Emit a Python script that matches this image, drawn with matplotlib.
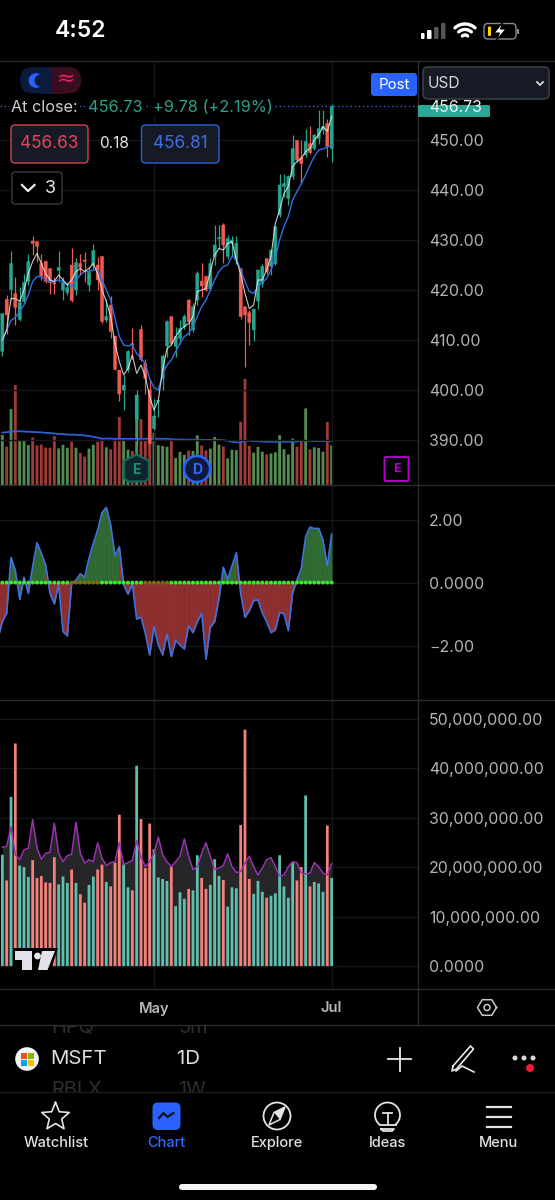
import numpy as np
import matplotlib
matplotlib.use("Agg")
import matplotlib.pyplot as plt
from matplotlib.patches import Circle, FancyBboxPatch, Polygon, Rectangle

plt.rcParams['font.family'] = ['Inter', 'DejaVu Sans']

# daily candles, oldest first
open_p = [407.7,418.1,420.1,419.3,414.1,417.7,421.7,429.8,429.7,425.3,425.7,424.3,421.5,423.9,420.0,419.5,425.0,420.0,425.3,426.0,
          421.0,425.0,425.0,426.7,414.0,417.0,410.8,404.0,400.0,404.1,409.3,394.0,412.1,405.3,400.0,392.3,397.7,402.3,408.8,414.7,
          408.7,410.3,412.7,418.0,412.0,418.0,421.8,422.7,420.2,426.7,430.2,433.0,426.7,429.3,426.0,424.3,416.7,415.5,412.0,417.8,
          421.3,426.3,424.7,425.3,435.0,440.7,438.3,442.7,449.9,446.5,447.0,449.3,448.3,450.3,452.0,453.3,448.3]
close_p = [415.3,415.0,425.3,416.5,417.5,421.5,425.7,429.3,428.7,422.8,421.7,421.5,421.2,424.5,421.5,420.5,417.9,425.5,424.5,425.7,
           423.5,427.9,422.0,413.7,414.7,411.7,404.1,399.2,401.0,407.7,409.0,399.0,406.1,402.3,389.3,394.8,397.9,406.8,413.7,409.3,
           410.7,412.3,414.7,413.7,416.7,423.3,420.8,420.0,425.3,429.0,430.5,429.0,430.3,430.0,429.3,414.7,415.0,413.5,416.2,424.0,
           424.7,423.7,428.0,432.7,441.0,441.3,442.7,448.3,446.0,445.3,449.7,447.5,451.0,452.3,452.7,448.7,456.73]
high_p = [415.5,419.0,427.9,422.7,420.7,423.3,427.3,430.8,429.7,427.3,426.0,424.3,422.7,427.8,422.7,421.7,428.5,426.5,427.2,427.7,
          424.7,429.3,426.7,426.8,418.3,418.8,410.8,404.0,403.0,408.0,412.5,400.0,413.0,406.3,402.0,398.3,398.0,407.3,414.1,414.7,
          412.7,414.0,415.3,418.3,417.5,423.8,425.5,423.0,426.5,433.0,433.0,433.5,431.0,430.9,430.9,424.3,416.7,416.0,416.3,424.0,
          425.3,426.3,428.0,432.7,443.3,443.3,443.0,451.0,450.1,450.0,452.3,452.8,451.3,456.0,456.1,454.3,457.3]
low_p = [406.8,411.3,418.0,413.0,413.9,417.3,421.0,427.0,425.7,422.0,421.5,419.2,419.3,421.7,418.0,419.0,417.7,419.0,423.0,421.7,
         419.9,424.3,420.0,413.5,413.7,410.5,404.0,397.9,396.0,403.7,406.3,389.3,405.9,399.3,389.3,392.0,394.7,400.1,406.7,409.0,
         406.7,409.3,412.3,411.0,411.7,417.1,418.7,419.8,420.0,425.0,428.3,425.5,426.3,426.9,425.3,414.3,404.7,409.0,409.8,416.3,
         420.7,423.3,423.0,425.0,434.7,438.7,437.0,442.3,445.7,441.3,446.7,447.3,448.0,449.3,451.3,446.7,445.7]
fast_ma = [410.0,412.0,418.3,418.3,417.7,420.0,423.3,425.7,427.3,425.3,423.3,422.0,421.7,423.0,422.0,421.0,422.0,423.7,424.3,423.7,
           424.3,425.3,423.3,420.0,417.7,414.7,409.3,405.7,403.0,404.3,407.0,403.3,405.0,402.7,398.7,396.0,398.0,404.0,408.3,409.0,
           410.7,412.0,412.7,413.3,414.7,419.7,420.0,420.3,423.7,427.0,428.3,428.0,429.3,429.7,426.0,423.3,419.3,416.3,417.0,422.0,
           422.0,424.0,426.7,433.3,436.0,439.3,440.7,444.7,445.7,446.3,447.7,448.3,450.0,451.0,452.7,451.7,454.7]
slow_ma = [410.0,412.0,413.9,414.5,415.7,417.0,419.0,421.7,422.7,422.7,422.0,421.7,421.7,422.0,421.7,421.0,420.7,422.0,423.0,423.7,
           423.7,424.0,424.0,422.0,420.0,418.0,414.3,410.7,409.0,408.8,409.0,407.3,406.3,405.3,402.3,400.5,400.0,403.3,405.0,406.0,
           407.7,409.3,410.7,411.3,412.7,414.7,416.7,418.0,420.0,422.0,423.7,424.7,425.0,426.7,426.3,424.0,421.7,419.7,419.3,420.7,
           421.5,422.3,424.0,426.3,430.0,432.7,434.7,438.0,439.7,441.3,443.0,445.0,446.7,448.0,448.2,448.6,449.0]

# volume in millions, its average in the price pane, and the purple average in the lower pane
volume_m = [22.5,17.3,34.2,45.0,20.3,20.0,18.0,21.4,17.8,18.2,16.9,16.8,22.0,16.5,18.1,16.8,19.5,16.8,14.5,12.8,
            16.4,18.1,19.5,20.5,17.0,16.1,20.9,30.6,20.5,15.9,15.3,40.5,29.7,19.8,28.8,23.6,17.9,17.6,17.2,20.1,
            12.1,14.9,13.6,15.6,15.3,22.4,17.8,15.6,16.4,21.6,18.2,17.4,12.0,15.9,15.7,28.5,47.8,17.6,14.6,17.2,
            15.0,13.8,14.2,14.7,22.4,16.1,13.8,20.9,17.3,20.0,34.5,16.1,17.0,16.7,15.0,28.4,17.8]
volume_avg = [23.6,23.8,24.0,24.2,24.2,24.1,24.0,23.9,23.8,23.7,23.5,23.4,23.2,23.0,22.9,22.7,22.7,22.6,22.5,22.3,
              22.1,21.7,21.3,20.9,20.9,20.9,20.8,20.8,20.8,20.8,20.8,20.8,20.8,20.8,20.8,20.8,20.8,20.8,20.8,20.6,
              20.5,20.5,20.4,20.4,20.4,20.3,20.3,20.3,20.3,20.3,20.3,20.2,19.9,19.5,19.2,19.2,20.0,19.9,19.8,19.7,
              19.6,19.5,19.5,19.5,19.5,19.5,19.5,19.5,19.6,19.9,20.0,19.9,19.8,19.8,19.8,19.8,19.8]
volume_purple = [24.0,24.2,28.1,22.5,21.5,23.5,23.8,29.6,23.9,21.6,22.8,23.0,28.9,22.8,21.1,22.3,22.6,29.1,22.8,20.8,
                 21.5,21.1,24.9,21.8,20.3,20.9,21.1,25.0,20.5,20.9,21.3,25.4,22.0,20.1,21.1,22.8,26.1,22.5,21.1,20.1,
                 21.1,22.2,25.7,22.2,19.5,20.1,22.8,24.9,22.2,19.5,19.8,20.3,22.7,20.1,18.9,19.1,20.8,22.2,20.1,18.4,
                 19.8,21.5,21.9,20.1,18.2,18.4,20.1,21.1,20.9,18.8,18.6,18.8,20.9,20.1,18.8,18.4,20.7]

# oscillator starts one bar earlier, the first point sits off the left edge
osc_vals = [-1.77,-1.24,-0.97,0.80,0.38,-0.53,0.17,-0.34,0.51,1.27,0.93,0.56,-0.34,-0.68,-0.04,-1.56,-1.69,-0.02,0.08,0.28,
            0.17,0.77,1.25,1.67,2.22,2.39,1.83,0.85,1.14,-0.07,-0.37,-0.04,-1.16,-1.10,-1.61,-2.30,-1.40,-1.98,-2.30,-1.63,
            -2.35,-1.84,-1.98,-2.11,-1.38,-1.59,-1.24,-0.97,-2.43,-1.42,-1.24,-0.50,0.49,0.11,0.53,0.95,-0.34,-1.10,-0.89,-0.57,
            -0.55,-0.97,-1.24,-1.59,-1.50,-0.95,-0.99,-1.52,-0.32,0.08,0.46,1.46,1.76,1.72,1.72,1.35,0.53,1.54]
squeeze_dim = [16,17,18,19,20,21,22,33,34,35,36,37,38]

price_ticks = [390,400,410,420,430,440,450]
osc_ticks = [-2,0,2]
osc_labels = ['\u22122.00','0.0000','2.00']
vol_ticks = [0,10,20,30,40,50]
vol_labels = ['0.0000','10,000,000.00','20,000,000.00','30,000,000.00','40,000,000.00','50,000,000.00']
month_pos = [35,76]
month_labels = ['May','Jul']
last_close = 456.73

W, H = 555, 1200
BG = '#000000'
UP, DOWN = '#27a58f', '#ef5b52'
GRID = '#14161a'
TICK = '#b4b4b8'
LINE = '#2a2c33'

fig = plt.figure(figsize=(W/100, H/100), dpi=100, facecolor=BG)

def pane(top, bottom):
    ax = fig.add_axes([0, 1-bottom/H, 417.5/W, (bottom-top)/H], facecolor=BG)
    for s in ax.spines.values():
        s.set_visible(False)
    ax.set_xlim((0-2.33)/4.333, (417.5-2.33)/4.333)
    ax.yaxis.tick_right()
    ax.tick_params(axis='y', length=0, pad=8.4, labelsize=11.4, labelcolor=TICK)
    ax.tick_params(axis='x', length=0, labelbottom=False)
    ax.set_xticks(month_pos)
    ax.grid(color=GRID, lw=1)
    ax.set_axisbelow(True)
    return ax

def unsnap(bars):
    # even bar widths instead of rounding to whole pixels
    for b in bars:
        b.set_snap(False)

x = np.arange(len(close_p))
is_up = np.array(close_p) >= np.array(open_p)

# volume sits under the candles in the price pane
ax_v = fig.add_axes([0, 1-485/H, 417.5/W, 424/H], facecolor=BG)
ax_v.axis('off')
ax_v.set_xlim((0-2.33)/4.333, (417.5-2.33)/4.333)
ax_v.set_ylim(0, 191)
unsnap(ax_v.bar(x, volume_m, width=0.66, color=['#548c50' if u else '#9e3a37' for u in is_up]))
ax_v.plot(x, volume_avg, color='#2f5fd8', lw=1.3)

ax1 = pane(61, 485)
ax1.patch.set_alpha(0)
ax1.set_zorder(ax_v.get_zorder()+1)
ax1.set_ylim(381, 465.8)
ax1.set_yticks(price_ticks)
ax1.set_yticklabels([f'{p:.2f}' for p in price_ticks])
colors = [UP if u else DOWN for u in is_up]
ax1.axhline(last_close, color='#3f62c8', lw=1, ls=(0, (1, 2)))
ax1.vlines(x, low_p, high_p, color=colors, lw=0.9)
bottoms = np.minimum(open_p, close_p)
heights = np.abs(np.array(close_p)-np.array(open_p))
unsnap(ax1.bar(x, heights, bottom=bottoms, width=0.72, color=colors, edgecolor=colors, lw=0.3))
ax1.plot(x, slow_ma, color='#2f6fe0', lw=1.0)
ax1.plot(x, fast_ma, color='#e8e8e0', lw=0.8, alpha=0.85)

# oscillator, each segment takes the colour of its end point
ax2 = pane(485, 700)
ax2.set_ylim(-3.73, 3.10)
ax2.set_yticks(osc_ticks)
ax2.set_yticklabels(osc_labels)
ox = np.arange(-1, len(close_p))
for j in range(1, len(osc_vals)):
    seg = '#2f6b32' if osc_vals[j] >= 0 else '#8f3030'
    ax2.fill_between(ox[j-1:j+1], osc_vals[j-1:j+1], 0, facecolor=seg, edgecolor=seg, lw=0.4)
ax2.plot(ox, osc_vals, color='#4270dc', lw=1.2)
ax2.plot(x, np.zeros(len(x)), color='#7a4a18', lw=0.8, ls=(0, (2, 2)))
dot_cols = ['#7d6a12' if i in squeeze_dim else '#3bea2b' for i in x]
ax2.scatter(x, np.zeros(len(x)), s=8, c=dot_cols, lw=0, zorder=3)

# lower volume pane
ax3 = pane(700, 989)
ax3.set_ylim(-4.66, 53.8)
ax3.set_yticks(vol_ticks)
ax3.set_yticklabels(vol_labels)
ax3.fill_between(x, volume_purple, 0, color='#262628', lw=0)
unsnap(ax3.bar(x, volume_m, width=0.64, color=['#5fbfae' if u else '#f5817a' for u in is_up]))
ax3.plot(x, volume_purple, color='#9a32b0', lw=1.1)
ax3.tick_params(axis='x', labelbottom=True, pad=9, labelsize=10.6, labelcolor='#b8b8bc')
ax3.set_xticklabels(month_labels, fontweight='semibold')

# app chrome, drawn in pixel coordinates
ui = fig.add_axes([0, 0, 1, 1], facecolor='none')
ui.set_xlim(0, W)
ui.set_ylim(H, 0)
ui.axis('off')
ui.set_zorder(10)

def txt(px, py, s, size, color='#ffffff', ha='left', weight='normal', **kw):
    return ui.text(px, py, s, fontsize=size*0.72, color=color, ha=ha, va='center', fontweight=weight, **kw)

def rbox(x0, y0, x1, y1, r, fc, ec='none', lw=1.0, z=2):
    p = FancyBboxPatch((x0+r, y0+r), x1-x0-2*r, y1-y0-2*r, boxstyle=f'round,pad={r},rounding_size={r}',
                       fc=fc, ec=ec, lw=lw, zorder=z)
    ui.add_patch(p)

def arc(cx, cy, r, a0, a1, **kw):
    t = np.radians(np.linspace(a0, a1, 30))
    ui.plot(cx+r*np.cos(t), cy-r*np.sin(t), solid_capstyle='round', **kw)

def clipped(px, py, s, size, y0, y1):
    # picker rows fade out past the hairlines
    t = txt(px, py, s, size, color='#2e2e30')
    t.set_clip_path(Rectangle((0, y0), W, y1-y0, transform=ui.transData))
    t.set_clip_on(True)

# pane separators
for yy in [61, 485, 700, 989, 1025]:
    ui.plot([0, W], [yy, yy], color=LINE, lw=1)
ui.plot([0, W], [1092, 1092], color='#1a1b20', lw=1)
ui.plot([417.5, 417.5], [61, 1025], color=LINE, lw=1)

# status bar
txt(81, 31, '4:52', 23, ha='center', weight='semibold')
for bx, bw, top, col in zip([421, 427, 434, 441], [3.5, 4.5, 4.5, 4.5], [33, 30, 27, 23], ['#fff', '#fff', '#555', '#555']):
    rbox(bx, top, bx+bw, 39, 1, col)
for r in [4, 9.5, 15]:
    arc(465, 39, r, 48, 132, color='#fff', lw=2.4)
rbox(484, 23.5, 516, 39, 4, 'none', ec='#8a8a8a', lw=1)
rbox(488, 26.5, 491, 36, 1, '#ffd60a')
ui.add_patch(Rectangle((517, 29), 1.5, 4.5, fc='#8a8a8a'))
ui.add_patch(Polygon([(503, 22), (494, 33), (499.5, 33), (496, 41), (506, 29), (500.5, 29)], fc='#fff', ec='#000', lw=0.8, zorder=3))

# legend toggles
rbox(20, 67, 60, 93.5, 13, '#0c1a3e')
rbox(40, 67, 81, 93.5, 13, '#3a0c20')
ui.add_patch(Rectangle((40, 67), 11, 26.5, fc='#0c1a3e', zorder=2))
ui.add_patch(Rectangle((51, 67), 15, 26.5, fc='#3a0c20', zorder=2))
ui.add_patch(Circle((36, 80.5), 7.3, fc='#2962ff', zorder=3))
ui.add_patch(Circle((40.5, 80.5), 6, fc='#0c1a3e', zorder=4))
txt(65.5, 79, '\u2248', 22, color='#e0245e', ha='center', zorder=4, family=['DejaVu Sans'])

# close readout
bg = dict(fc=BG, ec='none', pad=1.5)
txt(11, 107, 'At close:', 16.2, color='#d0d0d0', bbox=bg)
txt(88, 107, '456.73', 16.4, color='#2f9f8b', bbox=bg)
txt(153, 107, '+9.78 (+2.19%)', 16.4, color='#2f9f8b', bbox=bg)
rbox(11, 125, 88, 163, 4, '#151a26', ec='#d9434f', lw=1)
txt(49.5, 144, '456.63', 17.2, color='#e8455a', ha='center', zorder=3)
txt(114.5, 144, '0.18', 15.5, color='#e6e6e6', ha='center')
rbox(141.5, 125, 219, 163, 4, '#151a26', ec='#2f5fd0', lw=1)
txt(180, 144, '456.81', 17.2, color='#3f6fe0', ha='center', zorder=3)
rbox(12, 172, 62, 204, 3, BG, ec='#3a3a3f', lw=1)
ui.plot([22, 28, 34.5], [185, 191, 185], color='#ececec', lw=1.6)
txt(50, 188.5, '3', 18, color='#e6e6e6', ha='center', zorder=3)

# price scale header
rbox(418, 105, 490, 117, 1.5, '#2aa897')
txt(456, 107, f'{last_close:.2f}', 15.8, color='#e8f6f3', ha='center', zorder=3)
rbox(371, 73, 417, 96, 3, '#2962ff')
txt(394, 85, 'Post', 15, ha='center', zorder=3)
rbox(423, 67, 549, 99, 5, '#161a24', ec='#3a3d45', lw=1.2, z=4)
txt(428, 83, 'USD', 15.5, color='#d8d8d8', zorder=5)
ui.plot([537, 540, 543], [82, 85, 82], color='#d8d8d8', lw=1.3, zorder=5)

# event badges on the price pane
ui.add_patch(Polygon([(124, 461), (136.5, 454.5), (149, 461), (149, 478), (145, 481.5), (128, 481.5), (124, 478)],
                     fc='#10242b', ec='#116a5c', lw=1.6, zorder=3))
txt(136.5, 469.5, 'E', 14, color='#1c8f7d', ha='center', weight='bold', zorder=4)
ui.add_patch(Circle((197, 469), 13, fc='#0e1a36', ec='#2962ff', lw=1.8, zorder=3))
txt(197, 469.5, 'D', 14, color='#2f6bff', ha='center', weight='bold', zorder=4)
rbox(384.5, 457, 408.5, 481, 1.5, BG, ec='#b400c8', lw=1.4)
txt(396.5, 469, 'E', 12.5, color='#b400c8', ha='center', weight='bold', zorder=3)

# watermark
ui.add_patch(Polygon([(13, 948), (58, 948), (50, 973), (13, 973)], fc=BG, zorder=3))
ui.add_patch(Polygon([(15, 951), (32, 951), (32, 970), (22, 970), (22, 960), (15, 960)], fc='#e2e2ea', zorder=4))
ui.add_patch(Circle((37.5, 956), 3.4, fc='#e2e2ea', zorder=4))
ui.add_patch(Polygon([(42, 951), (55, 951), (47.5, 970), (38, 970)], fc='#e2e2ea', zorder=4))

# settings hexagon in the time axis
t = np.radians(np.arange(0, 361, 60))
ui.plot(487+9.5*np.cos(t), 1007.5+9*np.sin(t), color='#c8c8c8', lw=1.1)
ui.add_patch(Circle((487, 1007.5), 3, fc='none', ec='#c8c8c8', lw=1.1))

# neighbouring picker rows
clipped(51, 1028, 'HPQ', 20, 1025.5, 1045)
clipped(178, 1028, '5m', 20, 1025.5, 1045)
clipped(51, 1090, 'RBLX', 20, 1070, 1091.5)
clipped(178, 1090, '1W', 20, 1070, 1091.5)

# symbol row
ui.add_patch(Circle((27, 1059), 11.8, fc='#f4f4f4', zorder=3))
for qx, qy, qc in [(20.5, 1052.5, '#f25022'), (27.7, 1052.5, '#7fba00'), (20.5, 1059.7, '#00a4ef'), (27.7, 1059.7, '#ffb900')]:
    ui.add_patch(Rectangle((qx, qy), 6.4, 6.4, fc=qc, zorder=4))
txt(50.5, 1059.5, 'MSFT', 20.5, color='#dcdcdc')
txt(177.5, 1059.5, '1D', 20.5, color='#dcdcdc')
ui.plot([388, 411], [1059, 1059], color='#e8e8e8', lw=1.3)
ui.plot([399.5, 399.5], [1048, 1071], color='#e8e8e8', lw=1.3)
ui.plot([453, 470.5, 473.5, 456.5, 452, 453], [1066, 1046, 1049, 1069, 1071, 1066], color='#e8e8e8', lw=1.2)
ui.plot([456, 462, 468, 474], [1071, 1066, 1069, 1072], color='#e8e8e8', lw=1.2)
for dx in [515, 524, 533]:
    ui.add_patch(Circle((dx, 1058), 2.5, fc='#d8d8d8'))
ui.add_patch(Circle((530, 1068), 4, fc='#f5173c', zorder=3))

# tab bar
a = np.radians(np.arange(-90, 271, 36))
rad = np.where(np.arange(11) % 2 == 0, 14.5, 6.5)
ui.plot(55.5+rad*np.cos(a), 1117+rad*np.sin(a), color='#e4e4e4', lw=1.2)
rbox(152.5, 1102.5, 180.5, 1130, 5.5, '#2962ff')
ui.plot([159, 163.5, 167.5, 173.5], [1118, 1113, 1117, 1113], color='#0a1020', lw=1.6, zorder=3)
ui.add_patch(Circle((277, 1116), 13.5, fc='none', ec='#e4e4e4', lw=1.3))
ui.add_patch(Polygon([(285, 1107), (280, 1119.5), (269, 1125), (274, 1112.5)], fc='none', ec='#e4e4e4', lw=1.1))
ui.add_patch(Polygon([(285, 1107), (280, 1119.5), (274, 1112.5)], fc='#e4e4e4'))
arc(387.5, 1115, 12.5, -50, 230, color='#e4e4e4', lw=1.3)
ui.plot([379.5, 395.5], [1125, 1125], color='#e4e4e4', lw=1.3)
ui.plot([381, 394, 392, 383, 381], [1129, 1129, 1131, 1131, 1129], color='#e4e4e4', lw=1.3)
ui.plot([383, 392], [1113, 1113], color='#e4e4e4', lw=1.3)
ui.plot([387.5, 387.5], [1113, 1124], color='#e4e4e4', lw=1.3)
for my in [1107, 1117, 1127]:
    ui.plot([487, 511], [my, my], color='#e4e4e4', lw=1.6)
for cx, lab, col in zip([56, 166.5, 277, 387.5, 498.5], ['Watchlist', 'Chart', 'Explore', 'Ideas', 'Menu'],
                        ['#e0e0e0', '#2f6bff', '#e0e0e0', '#e0e0e0', '#e0e0e0']):
    txt(cx, 1143, lab, 14.6, color=col, ha='center', weight='medium')
rbox(179, 1184, 377, 1190, 3, '#f5f5f5')

fig.savefig('out.png', dpi=100, facecolor=BG)
